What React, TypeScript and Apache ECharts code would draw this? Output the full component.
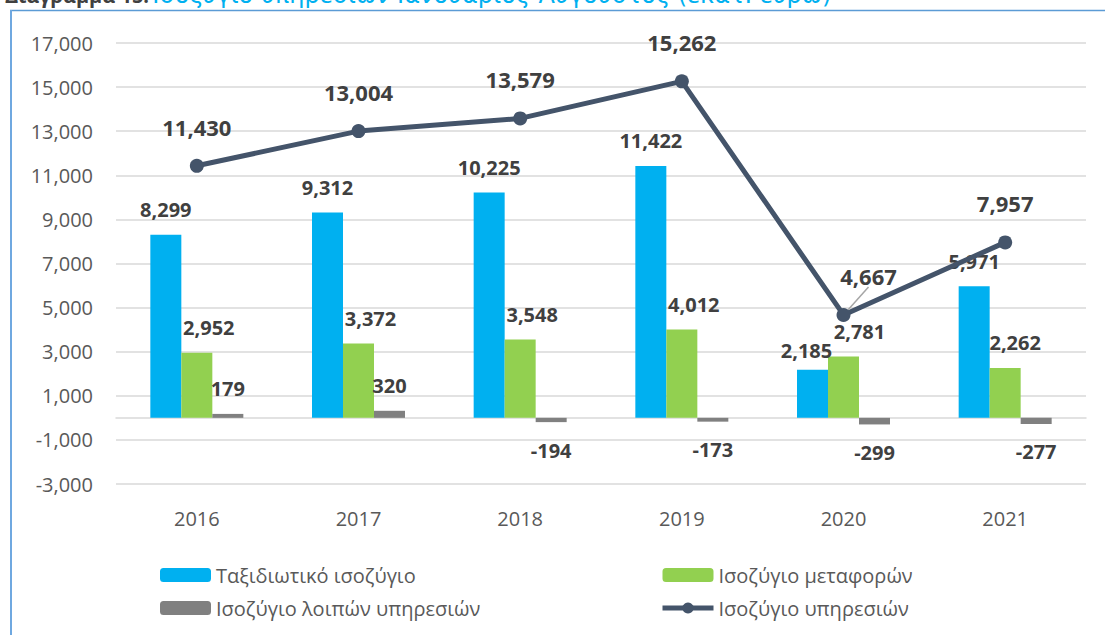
import React, { useEffect, useRef } from "react";
import * as echarts from "echarts";

const years = ["2016", "2017", "2018", "2019", "2020", "2021"];
const travelBalance = [8299, 9312, 10225, 11422, 2185, 5971];
const transportBalance = [2952, 3372, 3548, 4012, 2781, 2262];
const otherBalance = [179, 320, -194, -173, -299, -277];
const servicesBalance = [11430, 13004, 13579, 15262, 4667, 7957];
const yTickValues = [-3000, -1000, 1000, 3000, 5000, 7000, 9000, 11000, 13000, 15000, 17000];

const seriesNames = [
  "Ταξιδιωτικό ισοζύγιο",
  "Ισοζύγιο μεταφορών",
  "Ισοζύγιο λοιπών υπηρεσιών",
  "Ισοζύγιο υπηρεσιών",
];

const titleBold = "Διάγραμμα 15:";
const titleText = "Ισοζύγιο υπηρεσιών Ιανουάριος-Αύγουστος (εκατ. ευρώ)";

// label offsets (style only)
const travelOffsets: Record<number, number[]> = { 4: [-6, 6] };
const transportOffsets: Record<number, number[]> = { 0: [12, 0], 1: [12, 0], 2: [12, 0], 3: [12, 0], 4: [16, 0], 5: [10, 0] };
const movedLineLabel = 4;

const FONT = "'Open Sans', sans-serif";
const fmt = (v: number) => v.toLocaleString("en-US");

export default function App() {
  const ref = useRef<HTMLDivElement>(null);
  useEffect(() => {
    if (!ref.current) return;
    const chart = echarts.init(ref.current, null, { renderer: "svg" });
    const labelStyle = {
      show: true,
      fontFamily: FONT,
      fontWeight: "bold",
      fontSize: 20,
      color: "#404040",
      formatter: (p: any) => fmt(p.value),
    };
    const legendText = { fontFamily: FONT, fontSize: 20, color: "#595959", lineHeight: 20 };
    chart.setOption({
      animation: false,
      backgroundColor: "#ffffff",
      textStyle: { fontFamily: FONT },
      grid: { left: 116, right: 19, top: 43, bottom: 151, containLabel: false },
      legend: [
        {
          orient: "vertical",
          left: 155,
          top: 560,
          itemWidth: 51,
          itemHeight: 14,
          itemGap: 13,
          data: [seriesNames[0], seriesNames[2]],
          textStyle: legendText,
        },
        {
          orient: "vertical",
          left: 655,
          top: 560,
          itemWidth: 51,
          itemHeight: 14,
          itemGap: 13,
          data: [
            seriesNames[1],
            { name: seriesNames[3], lineStyle: { width: 5, color: "#44546A" } },
          ],
          textStyle: legendText,
        },
      ],
      xAxis: {
        type: "category",
        data: years,
        axisLine: { show: true, onZero: true, lineStyle: { color: "#D9D9D9", width: 1.5 } },
        axisTick: { show: false },
        axisLabel: {
          fontFamily: FONT,
          fontSize: 20,
          color: "#595959",
          margin: 24,
        },
        position: "bottom",
      },
      yAxis: {
        type: "value",
        min: -3000,
        max: 17000,
        interval: 1000,
        axisLine: { show: false },
        axisTick: { show: false },
        splitLine: { show: false },
        axisLabel: {
          fontFamily: FONT,
          fontSize: 20,
          color: "#595959",
          margin: 23,
          formatter: (v: number) => (yTickValues.includes(v) ? fmt(v) : ""),
        },
      },
      graphic: [
        {
          type: "line",
          shape: { x1: 10, y1: 10.5, x2: 1105, y2: 10.5 },
          style: { stroke: "#5B9BD5", lineWidth: 1.5 },
          silent: true,
        },
        {
          type: "line",
          shape: { x1: 11, y1: 10, x2: 11, y2: 635 },
          style: { stroke: "#6FA8E0", lineWidth: 2 },
          silent: true,
        },
        {
          type: "text",
          x: 5,
          y: 7,
          silent: true,
          style: {
            text: `{a|${titleBold}} {b|${titleText}}`,
            verticalAlign: "bottom",
            rich: {
              a: { fontFamily: FONT, fontSize: 20, fontWeight: "bold", fill: "#404040", color: "#404040" },
              b: { fontFamily: "'DejaVu Sans', sans-serif", fontSize: 24, fill: "#00B0F0", color: "#00B0F0" },
            },
          },
        },
      ],
      series: [
        {
          name: seriesNames[0],
          type: "bar",
          barWidth: 31,
          barGap: "0%",
          itemStyle: { color: "#00B0F0" },
          label: { ...labelStyle, position: "top", distance: 15 },
          data: travelBalance.map((v, i) =>
            travelOffsets[i] ? { value: v, label: { offset: travelOffsets[i] } } : v
          ),
          markLine: {
            silent: true,
            symbol: "none",
            z: 0,
            label: { show: false },
            lineStyle: { color: "#D9D9D9", width: 1.5, type: "solid" },
            data: yTickValues.map((v) => ({ yAxis: v })),
          },
        },
        {
          name: seriesNames[1],
          type: "bar",
          barWidth: 31,
          barGap: "0%",
          itemStyle: { color: "#92D050" },
          label: { ...labelStyle, position: "top", distance: 15 },
          data: transportBalance.map((v, i) =>
            transportOffsets[i] ? { value: v, label: { offset: transportOffsets[i] } } : v
          ),
        },
        {
          name: seriesNames[2],
          type: "bar",
          barWidth: 31,
          barGap: "0%",
          itemStyle: { color: "#808080" },
          label: { ...labelStyle },
          data: otherBalance.map((v) => ({
            value: v,
            label: v >= 0 ? { position: "top", distance: 15 } : { position: "bottom", distance: 18 },
          })),
        },
        {
          name: seriesNames[3],
          type: "line",
          z: 5,
          symbol: "circle",
          symbolSize: 14,
          lineStyle: { color: "#44546A", width: 5 },
          itemStyle: { color: "#44546A" },
          label: { ...labelStyle, fontSize: 22, position: "top", distance: 21 },
          labelLine: { show: false },
          labelLayout: (p: any) => (p.dataIndex === movedLineLabel ? { dx: 25, dy: 0 } : {}),
          data: servicesBalance.map((v, i) =>
            i === movedLineLabel
              ? { value: v, labelLine: { show: true, lineStyle: { color: "#A6A6A6", width: 1.5 } } }
              : v
          ),
        },
      ],
    });
    return () => chart.dispose();
  }, []);
  return (
    <div
      ref={ref}
      style={{ position: "fixed", left: 0, top: 0, width: 1105, height: 635, background: "#fff" }}
    />
  );
}
